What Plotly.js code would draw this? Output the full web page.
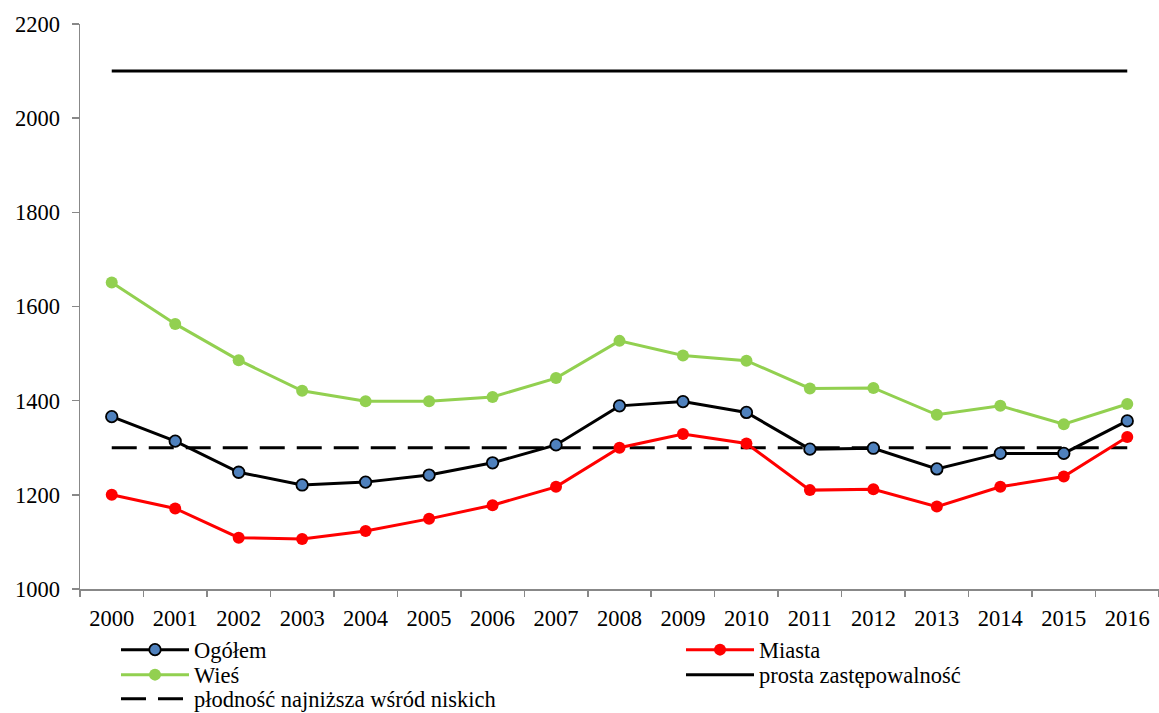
<!DOCTYPE html>
<html>
<head>
<meta charset="utf-8">
<script src="https://cdn.plot.ly/plotly-3.0.1.min.js"></script>
<style>html,body{margin:0;padding:0;background:#fff;}#chart{width:1159px;height:713px;}</style>
</head>
<body>
<div id="chart"></div>
<script>
const years = ['2000','2001','2002','2003','2004','2005','2006','2007','2008','2009','2010','2011','2012','2013','2014','2015','2016'];
const ogolem = [1366,1314,1248,1221,1227,1242,1268,1306,1389,1398,1375,1297,1299,1255,1288,1288,1357];
const miasta = [1200,1171,1109,1106,1123,1149,1178,1217,1300,1329,1309,1210,1212,1175,1217,1239,1323];
const wies   = [1651,1563,1486,1421,1399,1399,1408,1448,1527,1496,1485,1426,1427,1370,1389,1350,1393];
const prosta = years.map(() => 2100);
const najnizsza = years.map(() => 1300);
const yTicks = [1000,1200,1400,1600,1800,2000,2200];

const font = {family: 'Liberation Serif', size: 22.5, color: '#000'};
const lfont = {family: 'Liberation Serif', size: 22.5, color: '#000'};

const traces = [
  {x: years, y: prosta, name: 'prosta zastępowalność', mode: 'lines', line: {color: '#000', width: 3}, legend: 'legend4'},
  {x: years, y: najnizsza, name: 'płodność najniższa wśród niskich', mode: 'lines', line: {color: '#000', width: 3, dash: '25px,12px'}, legend: 'legend5'},
  {x: years, y: wies, name: 'Wieś', mode: 'lines+markers', line: {color: '#92D050', width: 3}, marker: {color: '#92D050', size: 12}, legend: 'legend3'},
  {x: years, y: miasta, name: 'Miasta', mode: 'lines+markers', line: {color: '#FF0000', width: 3}, marker: {color: '#FF0000', size: 12}, legend: 'legend2'},
  {x: years, y: ogolem, name: 'Ogółem', mode: 'lines+markers', line: {color: '#000', width: 3}, marker: {color: '#4F81BD', size: 11.5, line: {color: '#000', width: 1.8}}, legend: 'legend'}
];

function leg(xpx, ypx) {
  return {
    orientation: 'v', xref: 'container', yref: 'container',
    x: xpx / 1159, y: 1 - ypx / 713, xanchor: 'left', yanchor: 'middle',
    itemwidth: 68, tracegroupgap: 0, font: lfont, bgcolor: 'rgba(0,0,0,0)'
  };
}

const layout = {
  width: 1159, height: 713,
  margin: {l: 80, r: 0, t: 24, b: 124, autoexpand: false},
  paper_bgcolor: '#fff', plot_bgcolor: '#fff',
  font: font,
  showlegend: true,
  legend: leg(116, 650),
  legend2: leg(681, 650),
  legend3: leg(116, 675),
  legend4: leg(681, 675),
  legend5: leg(116, 699),
  xaxis: {
    type: 'category', tickvals: years, ticktext: years, tickangle: 0,
    showline: true, linecolor: '#888', linewidth: 1.5,
    ticks: 'outside', ticklen: 6, tickcolor: '#888', tickwidth: 1.5, tickson: 'boundaries',
    ticklabelstandoff: 8,
    showgrid: false, zeroline: false, tickfont: font, range: [-0.5, 16.5], automargin: false
  },
  yaxis: {
    range: [1000, 2200], tickvals: yTicks, ticktext: yTicks.map(String),
    showline: true, linecolor: '#888', linewidth: 1.5,
    ticks: 'outside', ticklen: 7, tickcolor: '#888', tickwidth: 1.5,
    ticklabelstandoff: 7,
    showgrid: false, zeroline: false, tickfont: font, automargin: false
  }
};

Plotly.newPlot('chart', traces, layout, {displayModeBar: false, staticPlot: true});
</script>
</body>
</html>
